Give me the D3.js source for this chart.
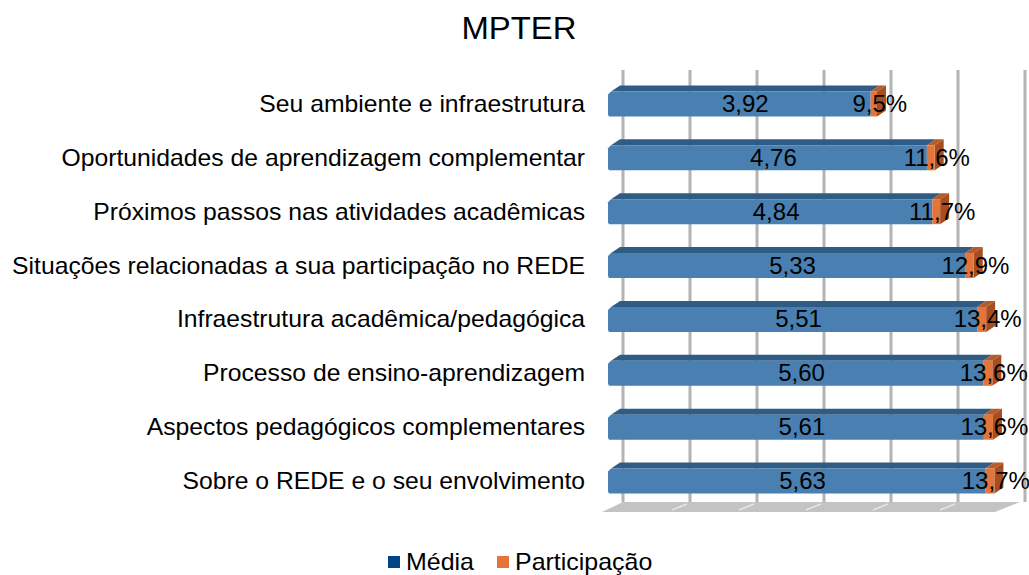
<!DOCTYPE html>
<html>
<head>
<meta charset="utf-8">
<script src="https://cdn.jsdelivr.net/npm/d3@7"></script>
<style>
  body { margin: 0; background: #fff; }
  svg { font-family: "Liberation Sans", Arial, sans-serif; }
</style>
</head>
<body>
<svg id="chart" width="1029" height="575"></svg>
<script>
// Chart data
const categories = [
  'Seu ambiente e infraestrutura',
  'Oportunidades de aprendizagem complementar',
  'Próximos passos nas atividades acadêmicas',
  'Situações relacionadas a sua participação no REDE',
  'Infraestrutura acadêmica/pedagógica ',
  'Processo de ensino-aprendizagem',
  'Aspectos pedagógicos complementares',
  'Sobre o REDE e o seu envolvimento'
];
const media = [3.92, 4.76, 4.84, 5.33, 5.51, 5.60, 5.61, 5.63];
const participacao = [0.095, 0.116, 0.117, 0.129, 0.134, 0.136, 0.136, 0.137];
const xTicks = [0, 1, 2, 3, 4, 5, 6];
const seriesNames = ['Média', 'Participação'];

const svg = d3.select('#chart');

// 3D depth offsets
const wallDx = 15, wallDy = -10;
const barDx = 9, barDy = -6;
const barH = 25;

const x = d3.scaleLinear().domain([0, 6]).range([608, 1010]);
const y = d3.scaleBand().domain(categories).range([77, 508]);
const cy = c => y(c) + y.bandwidth() / 2;
const fmt = v => v.toFixed(2).replace('.', ',');
const fmtPct = v => (v * 100).toFixed(1).replace('.', ',') + '%';

// Title
svg.append('text')
  .attr('transform', 'translate(519,39) scale(1.06,1)')
  .attr('text-anchor', 'middle')
  .style('font-size', '31px')
  .attr('fill', '#000')
  .text('MPTER');

// Floor
const floorFront = 512, floorBack = floorFront + wallDy;
svg.append('polygon')
  .attr('points', [
    [x(0) - 6, floorFront], [x(0) + wallDx, floorBack],
    [x(6) + wallDx - 5, floorBack], [x(6) - 15, floorFront]
  ].join(' '))
  .attr('fill', '#c3c3c3');

// Gridlines on the back wall
svg.append('g').selectAll('line')
  .data(xTicks)
  .enter().append('line')
  .attr('x1', d => x(d) + wallDx).attr('x2', d => x(d) + wallDx)
  .attr('y1', 70).attr('y2', floorBack)
  .attr('stroke', '#b3b3b3')
  .attr('stroke-width', 3);

// Light marks on the floor
svg.append('g').selectAll('line')
  .data(xTicks.slice(1, 6))
  .enter().append('line')
  .attr('x1', d => x(d) + wallDx - 3).attr('x2', d => x(d) - 3)
  .attr('y1', floorBack + 2).attr('y2', floorFront - 2)
  .attr('stroke', '#e6e6e6')
  .attr('stroke-width', 1.5);

// Category labels
svg.append('g').selectAll('text')
  .data(categories)
  .enter().append('text')
  .attr('transform', d => `translate(585,${cy(d) + 8}) scale(1.03,1)`)
  .attr('text-anchor', 'end')
  .style('font-size', '24px')
  .attr('fill', '#000')
  .text(d => d);

// Bars
const bars = svg.append('g').selectAll('g')
  .data(categories.map((c, i) => ({ c, m: media[i], p: participacao[i] })))
  .enter().append('g');

function face(sel, pts, fill) {
  sel.append('polygon').attr('points', pts.join(' ')).attr('fill', fill);
}

bars.each(function (d) {
  const g = d3.select(this);
  const top = cy(d.c) - barH / 2, bot = top + barH;
  const x0 = x(0), x1 = x(d.m), x2 = x(d.m + d.p);
  // blue segment
  face(g, [[x0 + 3, top], [x0 + 3 + barDx, top + barDy], [x1 + barDx, top + barDy], [x1, top]], '#2f5c85');
  face(g, [[x0 + 3, top], [x1, top], [x1, bot], [x0 + 1, bot], [x0, bot - 2], [x0, top + 3]], '#4a80b1');
  // orange segment
  face(g, [[x1, top], [x1 + barDx, top + barDy], [x2 + barDx, top + barDy], [x2, top]], '#b75a28');
  face(g, [[x2, top], [x2 + barDx, top + barDy], [x2 + barDx, bot + barDy], [x2, bot]], '#a64e20');
  g.append('rect')
    .attr('x', x1).attr('y', top)
    .attr('width', x2 - x1).attr('height', barH)
    .attr('fill', '#e2743c');
  // value labels
  g.append('text')
    .attr('x', (x0 + x1) / 2 + 6).attr('y', cy(d.c) + 8)
    .attr('text-anchor', 'middle')
    .style('font-size', '24px')
    .attr('fill', '#000')
    .text(fmt(d.m));
  g.append('text')
    .attr('x', (x1 + x2) / 2 + 6).attr('y', cy(d.c) + 8)
    .attr('text-anchor', 'middle')
    .style('font-size', '24px')
    .attr('fill', '#000')
    .text(fmtPct(d.p));
});

// Legend
const legendColors = ['#004586', '#e2743c'];
const legendX = [388, 497];
const legend = svg.append('g').selectAll('g')
  .data(seriesNames)
  .enter().append('g')
  .attr('transform', (d, i) => `translate(${legendX[i]},556)`);
legend.append('rect')
  .attr('width', 12).attr('height', 12)
  .attr('fill', (d, i) => legendColors[i]);
legend.append('text')
  .attr('transform', 'translate(18,14) scale(1.04,1)')
  .style('font-size', '24px')
  .attr('fill', '#000')
  .text(d => d);
</script>
</body>
</html>
